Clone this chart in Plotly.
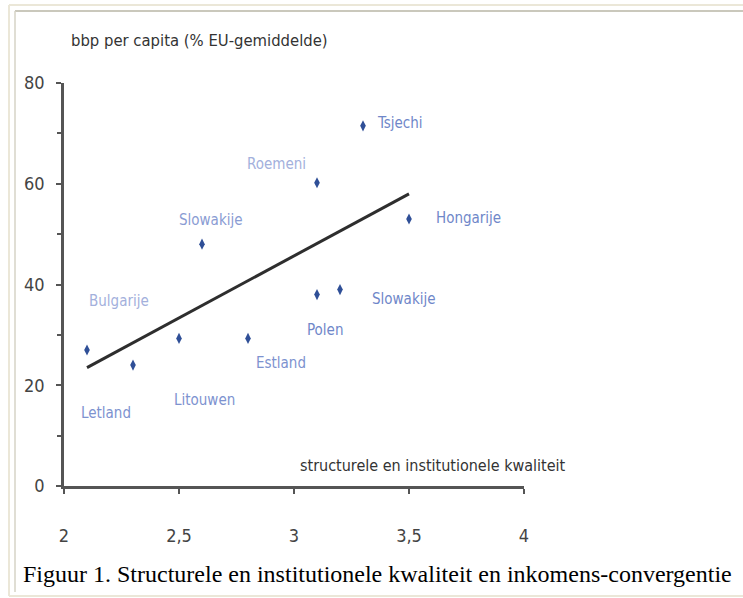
import plotly.graph_objects as go

# ---- data ----
countries = ["Bulgarije", "Letland", "Litouwen", "Estland", "Polen",
             "Slowakije", "Roemeni", "Slowakije", "Tsjechi", "Hongarije"]
quality = [2.1, 2.3, 2.5, 2.8, 3.1, 3.2, 3.1, 2.6, 3.3, 3.5]
gdp_pc = [27.0, 24.0, 29.3, 29.3, 38.0, 39.0, 60.2, 48.0, 71.5, 53.0]
trend_x = [2.1, 3.5]
trend_y = [23.5, 58.0]
x_ticks = [2, 2.5, 3, 3.5, 4]
y_ticks = [0, 20, 40, 60, 80]

y_title = "bbp per capita (% EU-gemiddelde)"
x_title = "structurele en institutionele kwaliteit"
caption = "Figuur 1. Structurele en institutionele kwaliteit en inkomens-convergentie"

# ---- styling / layout ----
W, H = 743, 598
L, R, T, B = 64, 524, 83, 486   # plot-area pixel box
NARROW = "Liberation Sans Narrow, Arial Narrow, DejaVu Sans Condensed, sans-serif"

def px(x):
    return (x - L) / (R - L)

def py(y):
    return (B - y) / (B - T)

# label offsets (pixels) relative to each point
label_dx = [32, -27, 25, 33, 8, 64, -41, 9, 37, 59]
label_dy = [49, -48, -62, -25, -35, -9, 19, 24, 3, 1]
label_col = ["#a3b0dc", "#7d92cf", "#7d92cf", "#7d92cf", "#6f87c9",
             "#6f87c9", "#a3b0dc", "#8a9cd3", "#6f87c9", "#6f87c9"]

fig = go.Figure()
fig.add_trace(go.Scatter(
    x=trend_x, y=trend_y, mode="lines",
    line=dict(color="#2e2e2e", width=3), hoverinfo="skip", showlegend=False))
fig.add_trace(go.Scatter(
    x=quality, y=gdp_pc, mode="markers",
    marker=dict(symbol="diamond-tall", size=8, color="#2f4f97"),
    text=countries, showlegend=False, cliponaxis=False))

annotations = []
for c, xv, yv, dx, dy, col in zip(countries, quality, gdp_pc, label_dx, label_dy, label_col):
    annotations.append(dict(
        x=xv, y=yv, xref="x", yref="y", text=c, showarrow=False,
        xanchor="center", yanchor="middle",
        xshift=dx, yshift=dy, font=dict(family=NARROW, size=15, color=col)))

annotations.append(dict(
    x=px(199), y=py(40), xref="paper", yref="paper", text=y_title, showarrow=False,
    xanchor="center", yanchor="middle",
    font=dict(family=NARROW, size=16.5, color="#333333")))
annotations.append(dict(
    x=px(433), y=py(465), xref="paper", yref="paper", text=x_title, showarrow=False,
    xanchor="center", yanchor="middle",
    font=dict(family=NARROW, size=16, color="#333333")))
annotations.append(dict(
    x=px(21), y=py(574), xref="paper", yref="paper", text=caption, showarrow=False,
    xanchor="left", yanchor="middle",
    font=dict(family="Liberation Serif, Times New Roman, serif", size=24, color="#000000")))

shapes = [
    # outer light frame
    dict(type="line", xref="paper", yref="paper", x0=px(9), x1=px(760), y0=py(5), y1=py(5),
         line=dict(color="#ebe7d8", width=2)),
    dict(type="line", xref="paper", yref="paper", x0=px(9), x1=px(9), y0=py(5), y1=py(596),
         line=dict(color="#ebe7d8", width=2)),
    dict(type="line", xref="paper", yref="paper", x0=px(9), x1=px(760), y0=py(596), y1=py(596),
         line=dict(color="#ebe7d8", width=2)),
    # inner frame
    dict(type="line", xref="paper", yref="paper", x0=px(15), x1=px(760), y0=py(11), y1=py(11),
         line=dict(color="#b9b6a6", width=1.5)),
    dict(type="line", xref="paper", yref="paper", x0=px(15), x1=px(15), y0=py(11), y1=py(592),
         line=dict(color="#d6d3c6", width=1.5)),
]

fig.update_layout(
    width=W, height=H,
    margin=dict(l=L, r=W - R, t=T, b=H - B, pad=0),
    paper_bgcolor="white", plot_bgcolor="white",
    separators=",.",
    annotations=annotations, shapes=shapes,
    font=dict(family=NARROW, color="#333333"),
    xaxis=dict(range=[2, 4], tickvals=x_ticks, showgrid=False, zeroline=False,
               showline=True, linecolor="#555555", linewidth=2.5,
               ticks="outside", ticklen=5, tickcolor="#555555", tickwidth=1.5,
               ticklabelstandoff=27, tickfont=dict(family=NARROW, size=18, color="#444444")),
    yaxis=dict(range=[0, 80], tickvals=y_ticks, showgrid=False, zeroline=False,
               showline=True, linecolor="#555555", linewidth=2.5,
               ticks="outside", ticklen=5, tickcolor="#555555", tickwidth=1.5,
               minor=dict(tickvals=[10, 30, 50, 70], ticks="outside", ticklen=4,
                          tickcolor="#555555", tickwidth=1.5),
               ticklabelstandoff=8, tickfont=dict(family=NARROW, size=18, color="#444444")),
)

fig.write_html("out.html", config={"displayModeBar": False},
               post_script="document.body.style.margin='0';")
